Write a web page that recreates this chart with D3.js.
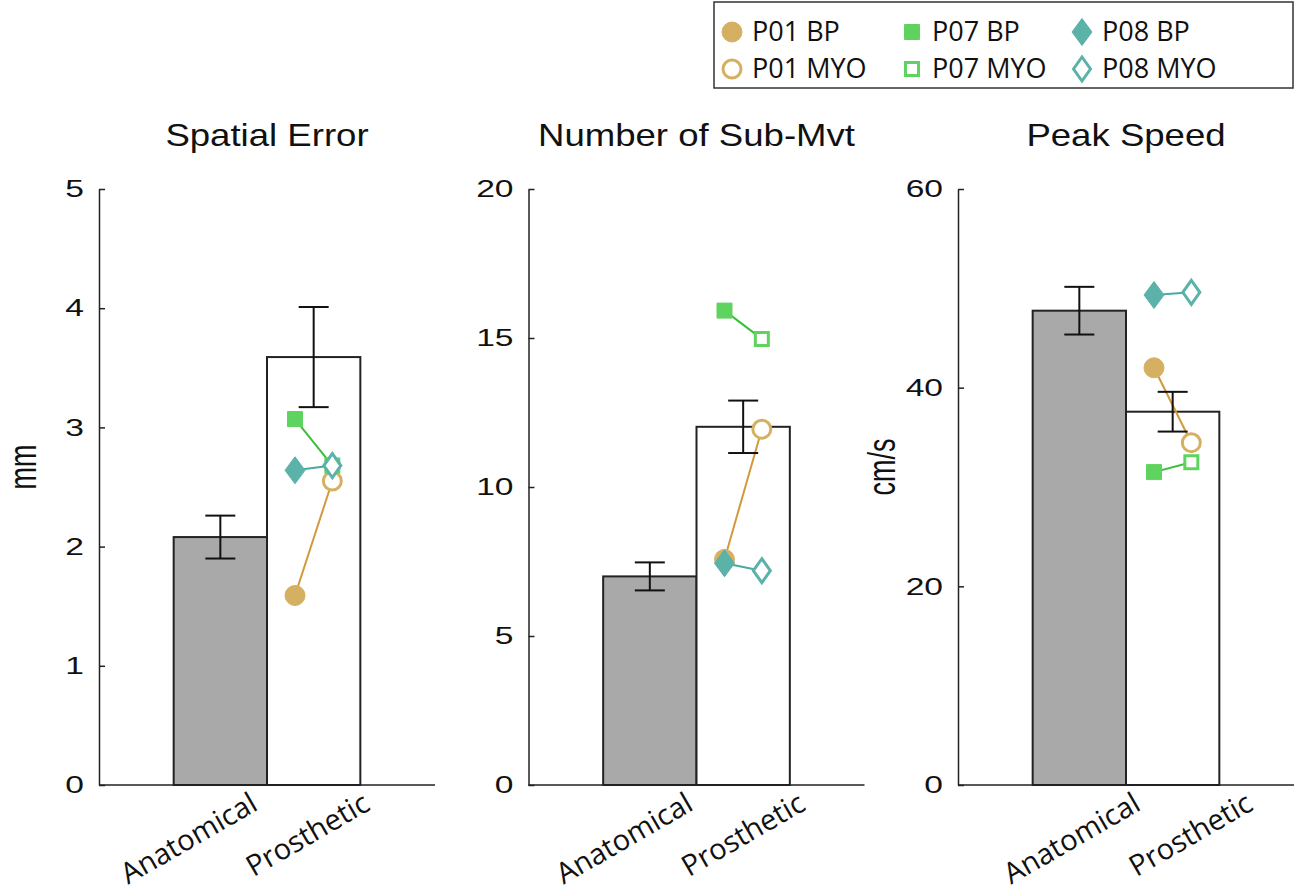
<!DOCTYPE html>
<html>
<head>
<meta charset="utf-8">
<script src="https://cdn.jsdelivr.net/npm/d3@7"></script>
<style>
body{margin:0;background:#fff}
svg{display:block}
</style>
</head>
<body>
<main></main>
<script>
// chart values
const categories = ['Anatomical', 'Prosthetic']
const titles = ['Spatial Error', 'Number of Sub-Mvt', 'Peak Speed']
const yLabels = ['mm', '', 'cm/s']
const yMax = [5, 20, 60]
const yTicks = [[0, 1, 2, 3, 4, 5], [0, 5, 10, 15, 20], [0, 20, 40, 60]]
const anatomicalMean = [2.08, 7.0, 47.75]
const anatomicalErr = [0.18, 0.47, 2.4]
const prostheticMean = [3.59, 12.02, 37.58]
const prostheticErr = [0.42, 0.88, 2.0]
const participants = ['P01', 'P07', 'P08']
const bpValues = [[1.59, 7.57, 42.0], [3.07, 15.92, 31.5], [2.64, 7.44, 49.33]]
const myoValues = [[2.55, 11.94, 34.46], [2.68, 14.97, 32.5], [2.68, 7.19, 49.6]]

const size = {width: 1295, height: 895}
const plot = {left: 99, step: 429.5, width: 336, top: 189, bottom: 785}
const colors = ['#D6B062', '#5FD35F', '#5AB2A8']
const lineColors = ['#D09A3A', '#38C038', '#4AA9A0']
const shapes = ['circle', 'square', 'diamond']
const tickFont = "'Liberation Sans', Arial, sans-serif"
const labelFont = "'Open Sans', sans-serif"
// label end offsets from the tick, per category, and extra shift per panel
const catShift = [39, 58]
const panelShift = [0, 6, 24]

const svg = d3.select('main')
    .append('svg')
    .attr('width', size.width)
    .attr('height', size.height)

// marker path drawn around (0,0)
const markerPath = (shape, hollow) => {
    if (shape === 'circle') {
        const r = hollow ? 9 : 10
        return d3.arc()({innerRadius: 0, outerRadius: r, startAngle: 0, endAngle: 2 * Math.PI})
    }
    if (shape === 'square') {
        const h = hollow ? 6.5 : 7.5
        return `M${-h},${-h}H${h}V${h}H${-h}Z`
    }
    const w = hollow ? 8.5 : 10, h = hollow ? 12 : 13.5
    return `M0,${-h}L${w},0L0,${h}L${-w},0Z`
}

const drawMarker = (g, i, hollow, x, y) => {
    g.append('path')
        .attr('d', markerPath(shapes[i], hollow))
        .attr('transform', `translate(${x},${y})`)
        .attr('fill', hollow ? '#fff' : colors[i])
        .attr('stroke', colors[i])
        .attr('stroke-width', hollow ? 3 : 1)
}

titles.forEach((title, p) => {
    const left = plot.left + p * plot.step
    const g = svg.append('g').attr('transform', `translate(${left},0)`)

    const x = d3.scaleLinear().domain([-0.3, 3.3]).range([0, plot.width])
    const y = d3.scaleLinear().domain([0, yMax[p]]).range([plot.bottom, plot.top])
    const barW = x(1) - x(0)

    const means = [anatomicalMean[p], prostheticMean[p]]
    const errs = [anatomicalErr[p], prostheticErr[p]]

    // bars
    g.selectAll('rect.bar')
        .data(means)
        .enter()
        .append('rect')
        .attr('class', 'bar')
        .attr('x', (d, i) => x(i + 1) - barW / 2)
        .attr('width', barW)
        .attr('y', d => y(d))
        .attr('height', d => y(0) - y(d))
        .attr('fill', (d, i) => i === 0 ? '#A9A9A9' : '#fff')
        .attr('stroke', '#222')
        .attr('stroke-width', 2)

    // participants: BP left of prosthetic bar, MYO right
    participants.forEach((name, i) => {
        const x0 = x(1.8), x1 = x(2.2)
        const y0 = y(bpValues[i][p]), y1 = y(myoValues[i][p])
        g.append('line')
            .attr('x1', x0).attr('y1', y0)
            .attr('x2', x1).attr('y2', y1)
            .attr('stroke', lineColors[i])
            .attr('stroke-width', 2)
        drawMarker(g, i, false, x0, y0)
        drawMarker(g, i, true, x1, y1)
    })

    // error bars
    means.forEach((m, i) => {
        const cx = x(i + 1)
        const eb = g.append('g').attr('stroke', '#111').attr('stroke-width', 2)
        eb.append('line').attr('x1', cx).attr('x2', cx).attr('y1', y(m + errs[i])).attr('y2', y(m - errs[i]))
        eb.append('line').attr('x1', cx - 15).attr('x2', cx + 15).attr('y1', y(m + errs[i])).attr('y2', y(m + errs[i]))
        eb.append('line').attr('x1', cx - 15).attr('x2', cx + 15).attr('y1', y(m - errs[i])).attr('y2', y(m - errs[i]))
    })

    // y axis, ticks inward
    const yAxis = g.append('g')
        .call(d3.axisLeft(y).tickValues(yTicks[p]).tickFormat(d3.format('d'))
            .tickSizeInner(-6).tickSizeOuter(0).tickPadding(14))
    yAxis.select('.domain').attr('stroke', '#222').attr('stroke-width', 1.5)
    yAxis.selectAll('.tick line').attr('stroke', '#222').attr('stroke-width', 1.5)
    yAxis.selectAll('.tick text')
        .attr('x', null)
        .attr('transform', 'translate(-15,0) scale(1.4,1)')
        .attr('font-family', tickFont)
        .attr('font-size', 24)
        .attr('fill', '#111')

    // x axis line
    g.append('line')
        .attr('x1', 0).attr('x2', plot.width)
        .attr('y1', plot.bottom).attr('y2', plot.bottom)
        .attr('stroke', '#222').attr('stroke-width', 1.5)

    // category labels, rotated
    g.selectAll('text.cat')
        .data(categories)
        .enter()
        .append('text')
        .attr('class', 'cat')
        .attr('text-anchor', 'end')
        .attr('transform', (d, i) => `translate(${x(i + 1) + catShift[i] + panelShift[p]},${plot.bottom + 24}) rotate(-30)`)
        .attr('font-family', labelFont)
        .attr('font-size', 29)
        .attr('fill', '#111')
        .text(d => d)

    // title
    g.append('text')
        .attr('text-anchor', 'middle')
        .attr('transform', `translate(${plot.width / 2},146) scale(1.18,1)`)
        .attr('font-family', tickFont)
        .attr('font-size', 31)
        .attr('fill', '#111')
        .text(title)

    // y label
    if (yLabels[p]) {
        g.append('text')
            .attr('text-anchor', 'middle')
            .attr('transform', `translate(-63,467) scale(1.45,1) rotate(-90)`)
            .attr('font-family', tickFont)
            .attr('font-size', 27)
            .attr('fill', '#111')
            .text(yLabels[p])
    }
})

// legend
const legend = svg.append('g').attr('transform', 'translate(714,2)')
legend.append('rect')
    .attr('width', 579).attr('height', 86)
    .attr('fill', '#fff').attr('stroke', '#333').attr('stroke-width', 1.5)

const legendCols = [18, 198, 368]
participants.forEach((name, i) => {
    ;['BP', 'MYO'].forEach((kind, r) => {
        const mx = legendCols[i], my = 30 + r * 37
        drawMarker(legend, i, r === 1, mx, my)
        legend.append('text')
            .attr('x', mx + 20)
            .attr('y', my + 9)
            .attr('font-family', labelFont)
            .attr('font-size', 27)
            .attr('fill', '#111')
            .text(`${name} ${kind}`)
    })
})
</script>
</body>
</html>
